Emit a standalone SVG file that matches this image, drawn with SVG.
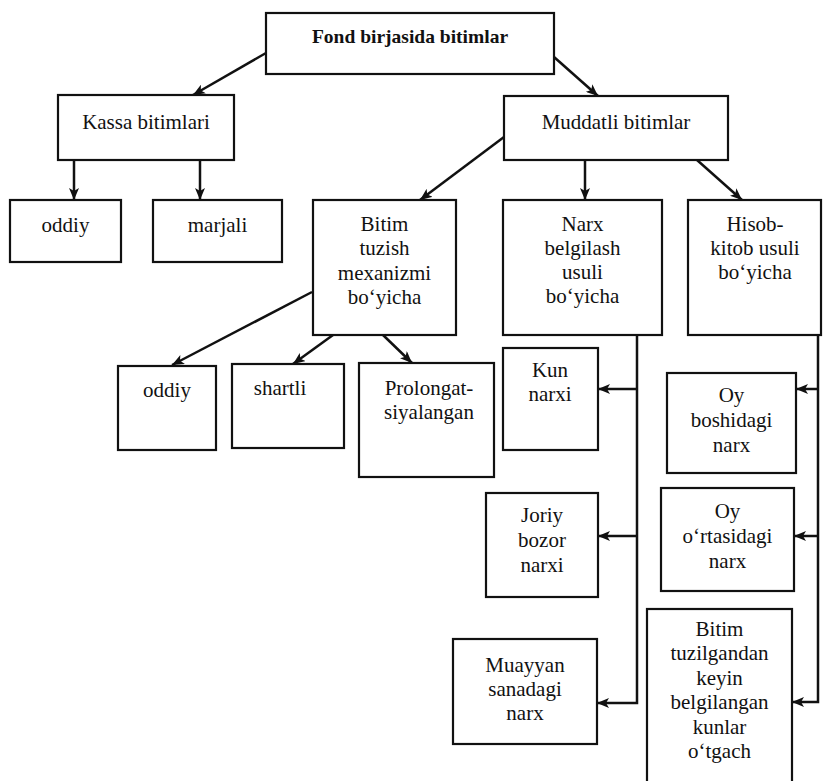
<svg xmlns="http://www.w3.org/2000/svg" width="823" height="781" viewBox="0 0 823 781">
<defs>
<style>
.box{fill:#fff;stroke:#111;stroke-width:2.2}
.t{font-family:"Liberation Serif","Times New Roman",serif;font-size:21px;fill:#111;text-anchor:middle}
.tb{font-weight:bold;font-size:19.5px}
.c{fill:none;stroke:#111;stroke-width:2.5}
</style>
<marker id="ah" markerUnits="userSpaceOnUse" markerWidth="12" markerHeight="10" refX="12" refY="5" orient="auto">
<path d="M0,0 L12,5 L0,10 L3,5 z" fill="#111"/>
</marker>
</defs>
<rect width="823" height="781" fill="#fff"/>

<g id="connectors">
<line class="c" x1="266" y1="53" x2="193" y2="95" marker-end="url(#ah)"/>
<line class="c" x1="554" y1="57" x2="598" y2="96" marker-end="url(#ah)"/>
<line class="c" x1="74" y1="160" x2="74" y2="200" marker-end="url(#ah)"/>
<line class="c" x1="200" y1="160" x2="200" y2="200" marker-end="url(#ah)"/>
<line class="c" x1="504" y1="137" x2="420" y2="200" marker-end="url(#ah)"/>
<line class="c" x1="585" y1="160" x2="585" y2="200" marker-end="url(#ah)"/>
<line class="c" x1="697" y1="160" x2="742" y2="200" marker-end="url(#ah)"/>
<line class="c" x1="312" y1="292" x2="172" y2="365" marker-end="url(#ah)"/>
<line class="c" x1="333" y1="335" x2="293" y2="364" marker-end="url(#ah)"/>
<line class="c" x1="383" y1="335" x2="412" y2="363" marker-end="url(#ah)"/>
<polyline class="c" points="637,336 637,703 597,703" marker-end="url(#ah)"/>
<line class="c" x1="637" y1="389" x2="598" y2="389" marker-end="url(#ah)"/>
<line class="c" x1="637" y1="536" x2="598" y2="536" marker-end="url(#ah)"/>
<polyline class="c" points="818,336 818,702 792,702" marker-end="url(#ah)"/>
<line class="c" x1="818" y1="389" x2="796" y2="389" marker-end="url(#ah)"/>
<line class="c" x1="818" y1="536" x2="794" y2="536" marker-end="url(#ah)"/>
</g>

<g id="n-fond"><rect class="box" x="266" y="13" width="288" height="61"/><text class="t tb" x="410" y="43">Fond birjasida bitimlar</text></g>
<g id="n-kassa"><rect class="box" x="58" y="95" width="176" height="65"/><text class="t" x="146" y="129">Kassa bitimlari</text></g>
<g id="n-muddatli"><rect class="box" x="504" y="96" width="224" height="64"/><text class="t" x="616" y="129">Muddatli bitimlar</text></g>
<g id="n-oddiy1"><rect class="box" x="10" y="200" width="111" height="62"/><text class="t" x="65.5" y="232">oddiy</text></g>
<g id="n-marjali"><rect class="box" x="153" y="200" width="129" height="62"/><text class="t" x="217.5" y="232">marjali</text></g>
<g id="n-mexanizm"><rect class="box" x="313" y="200" width="143" height="135"/>
<text class="t" x="384.5" y="231">Bitim</text><text class="t" x="384.5" y="255">tuzish</text><text class="t" x="384.5" y="280">mexanizmi</text><text class="t" x="384.5" y="304">bo‘yicha</text></g>
<g id="n-narx"><rect class="box" x="503" y="200" width="159" height="135"/>
<text class="t" x="582.5" y="231">Narx</text><text class="t" x="582.5" y="255">belgilash</text><text class="t" x="582.5" y="279">usuli</text><text class="t" x="582.5" y="303">bo‘yicha</text></g>
<g id="n-hisob"><rect class="box" x="688" y="200" width="133" height="135"/>
<text class="t" x="755" y="231">Hisob-</text><text class="t" x="755" y="255">kitob usuli</text><text class="t" x="755" y="279">bo‘yicha</text></g>
<g id="n-oddiy2"><rect class="box" x="118" y="366" width="98" height="84"/><text class="t" x="167" y="397">oddiy</text></g>
<g id="n-shartli"><rect class="box" x="232" y="364" width="112" height="84"/><text class="t" x="280" y="395">shartli</text></g>
<g id="n-prolong"><rect class="box" x="359" y="363" width="135" height="114"/>
<text class="t" x="429" y="395">Prolongat-</text><text class="t" x="429" y="419">siyalangan</text></g>
<g id="n-kun"><rect class="box" x="503" y="348" width="95" height="102"/>
<text class="t" x="550" y="377">Kun</text><text class="t" x="550" y="401">narxi</text></g>
<g id="n-joriy"><rect class="box" x="486" y="493" width="112" height="104"/>
<text class="t" x="542" y="522">Joriy</text><text class="t" x="542" y="547">bozor</text><text class="t" x="542" y="572">narxi</text></g>
<g id="n-muayyan"><rect class="box" x="453" y="639" width="144" height="105"/>
<text class="t" x="525" y="672">Muayyan</text><text class="t" x="525" y="696">sanadagi</text><text class="t" x="525" y="720">narx</text></g>
<g id="n-oyboshi"><rect class="box" x="667" y="373" width="129" height="100"/>
<text class="t" x="731.5" y="402">Oy</text><text class="t" x="731.5" y="427">boshidagi</text><text class="t" x="731.5" y="452">narx</text></g>
<g id="n-oyorta"><rect class="box" x="661" y="488" width="133" height="103"/>
<text class="t" x="727.5" y="518">Oy</text><text class="t" x="727.5" y="543">o‘rtasidagi</text><text class="t" x="727.5" y="568">narx</text></g>
<g id="n-kunlar"><rect class="box" x="647" y="609" width="145" height="190"/>
<text class="t" x="719.5" y="636">Bitim</text><text class="t" x="719.5" y="660">tuzilgandan</text><text class="t" x="719.5" y="685">keyin</text><text class="t" x="719.5" y="709">belgilangan</text><text class="t" x="719.5" y="734">kunlar</text><text class="t" x="719.5" y="758">o‘tgach</text></g>
</svg>
